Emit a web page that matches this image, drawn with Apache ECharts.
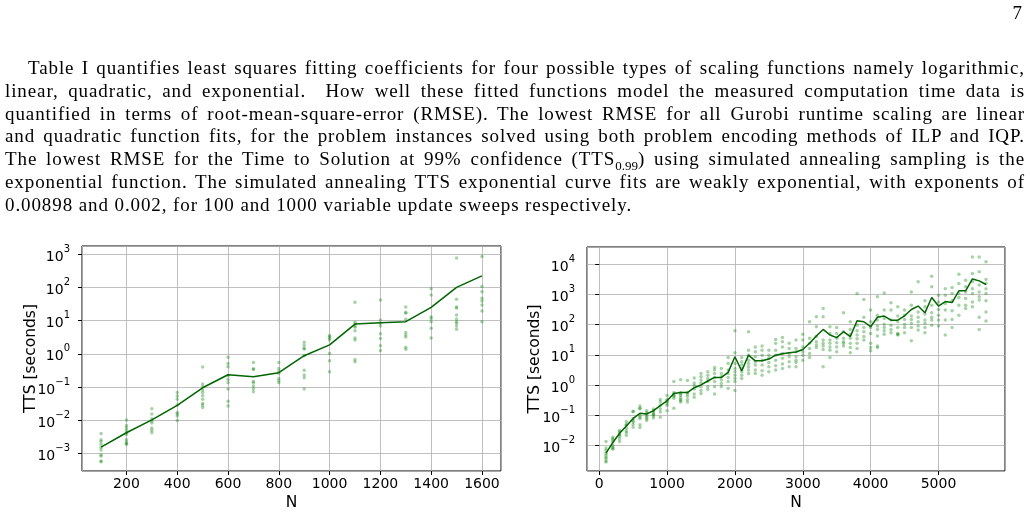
<!DOCTYPE html>
<html>
<head>
<meta charset="utf-8">
<script src="https://cdn.jsdelivr.net/npm/echarts@6/dist/echarts.min.js"></script>
<style>
html,body{margin:0;padding:0;background:#fff;}
#page{position:relative;width:1030px;height:514px;overflow:hidden;}
#chart{position:absolute;left:0;top:0;width:1030px;height:514px;}
#pnum{position:absolute;top:2px;right:8px;font:19px "Liberation Serif",serif;color:#000;z-index:2;}
#para{position:absolute;left:5px;top:57px;width:1020px;font:19px/22.8px "Liberation Serif",serif;letter-spacing:0.9px;color:#000;z-index:2;}
#para div{text-align:justify;text-align-last:justify;}
#para div.last{text-align-last:left;}
#para sub{font-size:13px;line-height:0;letter-spacing:0;}
</style>
</head>
<body>
<div id="page">
    <div id="chart"></div>
    <div id="pnum">7</div>
    <div id="para">
        <div style="text-indent:23px">Table I quantifies least squares fitting coefficients for four possible types of scaling functions namely logarithmic,</div>
        <div>linear, quadratic, and exponential.&nbsp; How well these fitted functions model the measured computation time data is</div>
        <div>quantified in terms of root-mean-square-error (RMSE). The lowest RMSE for all Gurobi runtime scaling are linear</div>
        <div>and quadratic function fits, for the problem instances solved using both problem encoding methods of ILP and IQP.</div>
        <div>The lowest RMSE for the Time to Solution at 99% confidence (TTS<sub>0.99</sub>) using simulated annealing sampling is the</div>
        <div>exponential function. The simulated annealing TTS exponential curve fits are weakly exponential, with exponents of</div>
        <div class="last">0.00898 and 0.002, for 100 and 1000 variable update sweeps respectively.</div>
    </div>
</div>
<script>
// 左图 - 每个N的平均TTS和各实例
var leftN = [100,200,300,400,500,600,700,800,900,1000,1100,1200,1300,1400,1500,1600];
var leftMean = [0.00155,0.0042,0.0102,0.028,0.095,0.234,0.204,0.27,0.88,1.86,7.9,8.7,9.3,25,101,224];
var leftRuns = [
    [0.0040,0.0026,0.0023,0.0019,0.0015,0.00126,0.00089,0.00083,0.00059,0.00056],
    [0.0102,0.0069,0.0059,0.0050,0.0043,0.0037,0.0026,0.0022,0.0020,0.0019],
    [0.022,0.0155,0.011,0.0093,0.0083,0.0058,0.0050,0.0042],
    [0.069,0.054,0.043,0.029,0.017,0.0155,0.0135,0.0098],
    [0.40,0.123,0.102,0.081,0.068,0.055,0.043,0.032,0.029,0.024],
    [0.79,0.51,0.41,0.22,0.17,0.135,0.087,0.037,0.027],
    [0.55,0.355,0.34,0.148,0.135,0.107,0.089,0.072],
    [0.55,0.36,0.30,0.26,0.18,0.155,0.135],
    [2.24,1.82,1.48,1.41,0.88,0.32,0.23,0.19,0.087],
    [3.6,3.3,2.95,2.6,1.03,0.62,0.29],
    [36,8.9,7.9,6.9,6.3,5.0,3.0,2.6,0.68,0.58],
    [42,10.5,8.3,6.9,4.0,2.9,1.74,1.26],
    [26,17.8,16.6,11,4.4,3.7,3.2,1.58,1.38],
    [91,59,13.2,11.7,9.3,5.9,3.0],
    [776,44,26,24,14.8,11.2,9.3,8.3,6.9,5.5],
    [851,107,74,47,39,29.5,19.5,9.3]
];

// 右图
var rightN = [100,200,300,400,500,600,700,800,900,1000,1100,1200,1300,1400,1500,1600,1700,1800,1900,2000,
    2100,2200,2300,2400,2500,2600,2700,2800,2900,3000,3100,3200,3300,3400,3500,3600,3700,3800,3900,4000,
    4100,4200,4300,4400,4500,4600,4700,4800,4900,5000,5100,5200,5300,5400,5500,5600,5700];
var rightMean = [0.0055,0.0123,0.025,0.044,0.078,0.115,0.11,0.14,0.205,0.30,0.52,0.56,0.56,0.81,1.0,1.35,1.78,1.78,2.6,8.6,
    2.9,9.7,6.3,6.3,7.2,9.7,10.8,11.7,12.3,15,24,42,69,45,37,58,40,134,124,85,
    175,192,140,140,196,316,410,245,790,410,580,535,1310,1310,3250,2800,2130];
var rightRuns = [
    [0.0135,0.0081,0.0068,0.0055,0.0047,0.004,0.0036,0.003,0.0028],
    [0.0186,0.0166,0.015,0.0129,0.01,0.0085,0.0081,0.0074],
    [0.031,0.028,0.024,0.022,0.020,0.0166,0.0135],
    [0.062,0.05,0.046,0.037,0.030,0.026,0.021],
    [0.135,0.13,0.076,0.065,0.059,0.049,0.040],
    [0.20,0.17,0.162,0.098,0.085,0.076,0.048,0.039],
    [0.14,0.12,0.11,0.095,0.085,0.076,0.066],
    [0.16,0.14,0.126,0.11,0.105,0.093,0.08],
    [0.33,0.27,0.21,0.16,0.126,0.085],
    [0.45,0.33,0.3,0.27,0.24,0.21,0.14],
    [1.3,0.56,0.5,0.45,0.42,0.36,0.17],
    [1.5,0.56,0.5,0.45,0.38,0.33,0.3,0.27],
    [1.4,0.56,0.5,0.42,0.33,0.27],
    [1.7,1.17,0.95,0.74,0.5,0.39],
    [2.4,1.86,1.45,1.17,0.87,0.65,0.52],
    [2.75,2.1,1.65,1.3,0.87,0.71],
    [3.8,3.1,2.4,1.78,1.3,0.87,0.5],
    [3.5,2.4,1.86,1.45,1.12,0.87],
    [8.1,5.1,3.1,2.4,1.78,1.3,0.78],
    [62,11.7,5.1,3.5,2.75,2.1,1.65,1.3,0.65],
    [8.1,5.9,4.6,3.5,2.75,2.1,1.65],
    [58,14,9.7,6.6,5.1,4.0,3.1,2.4],
    [18,12.6,8.6,5.9,4.6,3.1,2.4],
    [19.5,14,9.7,6.6,4.6,2.95,2.1],
    [14,9.7,7.6,5.5,4.0,2.75],
    [32,24,14,9.7,6.6,4.3,3.1],
    [37,27,18,11,7.6,4.9,3.5],
    [24,16,11,8.6,5.9,4.0],
    [31,16,12.6,8.6,6.6,5.5,4.0],
    [48,31,18,12.6,9.7,6.6],
    [123,35,24,16,11,8.1],
    [182,85,40,27,21,17.4],
    [339,182,31,24,19.5,15,4.0],
    [85,51,31,24,18,14,8.1],
    [80,51,35,25,18,12.6],
    [245,58,35,27,24,19.5],
    [123,69,48,35,24,17.4,11.7],
    [1070,95,62,45,34,24,16],
    [676,174,80,58,40,31],
    [302,123,80,51,24,17.4,13.5],
    [832,204,141,89,69,42,19.5,17.4],
    [1120,302,158,102,80,62,48],
    [525,302,141,95,69,54],
    [389,191,123,80,51,48,45],
    [302,204,148,102,80,54],
    [1200,437,191,148,110,80,29],
    [2630,263,174,123,89,66],
    [617,389,224,141,110,80,54],
    [3980,1780,437,245,174,141,95],
    [933,562,316,204,141,89],
    [1550,933,501,302,141,45],
    [1700,1070,617,288,148,80],
    [4680,2290,1070,794,437,204],
    [2950,1780,1200,724,437,339],
    [17400,4900,2630,1550,1070,562,389],
    [17400,5600,2040,1200,832,646,174,69],
    [12000,3090,2290,1550,1070,617,263,132]
];

var fontFamily = 'DejaVu Sans';
var gridColor = '#b0b0b0';

// 散点 [N, tts]
function runPoints(ns, runs) {
    var pts = [];
    for (var i = 0; i < ns.length; i++) {
        for (var j = 0; j < runs[i].length; j++) {
            pts.push([ns[i], runs[i][j]]);
        }
    }
    return pts;
}
function meanPoints(ns, mean) {
    var pts = [];
    for (var i = 0; i < ns.length; i++) pts.push([ns[i], mean[i]]);
    return pts;
}

// 10^n 标签
function powLabel(v) {
    var e = Math.round(Math.log(v) / Math.LN10);
    var s = e < 0 ? '\u2212' + (-e) : '' + e;
    return '{b|10}{s|' + s + '}';
}

function xAxisOpt(idx, min, max, step) {
    return {
        type: 'value', gridIndex: idx, min: min, max: max,
        minInterval: step, maxInterval: step,
        name: 'N', nameLocation: 'middle', nameGap: 24, nameMoveOverlap: false,
        nameTextStyle: {fontFamily: fontFamily, fontSize: 15.5, color: '#000'},
        axisLine: {show: false},
        axisTick: {show: true, length: 4, lineStyle: {color: '#000'}},
        axisLabel: {fontFamily: fontFamily, fontSize: 14, color: '#000', margin: 6,
            showMinLabel: false, showMaxLabel: false,
            formatter: function (v) { return '' + v; }},
        splitLine: {show: true, lineStyle: {color: gridColor, width: 0.8}}
    };
}
function yAxisOpt(idx, min, max, gap) {
    return {
        type: 'log', gridIndex: idx, min: min, max: max, logBase: 10,
        name: 'TTS [seconds]', nameLocation: 'middle', nameGap: gap, nameMoveOverlap: false,
        nameTextStyle: {fontFamily: fontFamily, fontSize: 15.5, color: '#000'},
        axisLine: {show: false},
        axisTick: {show: true, length: 4, lineStyle: {color: '#000'}},
        axisLabel: {
            margin: 12, showMinLabel: false, showMaxLabel: false,
            formatter: powLabel,
            rich: {
                b: {fontFamily: fontFamily, fontSize: 14, color: '#000', lineHeight: 20, verticalAlign: 'bottom'},
                s: {fontFamily: fontFamily, fontSize: 10, color: '#000', lineHeight: 10, verticalAlign: 'top'}
            }
        },
        splitLine: {show: true, lineStyle: {color: gridColor, width: 0.8}}
    };
}

var chart = echarts.init(document.getElementById('chart'));
var option = {
    animation: false,
    backgroundColor: '#fff',
    grid: [
        {left: 82, top: 246, width: 419, height: 225, show: true, borderColor: '#000', borderWidth: 1},
        {left: 587, top: 247, width: 418, height: 224, show: true, borderColor: '#000', borderWidth: 1}
    ],
    xAxis: [xAxisOpt(0, 25, 1675, 200), xAxisOpt(1, -180, 5980, 1000)],
    yAxis: [yAxisOpt(0, 2.95e-4, 1778, 43), yAxisOpt(1, 1.41e-3, 37150, 44)],
    series: [
        {type: 'scatter', xAxisIndex: 0, yAxisIndex: 0, data: runPoints(leftN, leftRuns),
            symbolSize: 3.5, itemStyle: {color: '#008000', opacity: 0.35}},
        {type: 'line', xAxisIndex: 0, yAxisIndex: 0, data: meanPoints(leftN, leftMean),
            showSymbol: false, lineStyle: {color: '#006400', width: 1.5}},
        {type: 'scatter', xAxisIndex: 1, yAxisIndex: 1, data: runPoints(rightN, rightRuns),
            symbolSize: 3.5, itemStyle: {color: '#008000', opacity: 0.35}},
        {type: 'line', xAxisIndex: 1, yAxisIndex: 1, data: meanPoints(rightN, rightMean),
            showSymbol: false, lineStyle: {color: '#006400', width: 1.5}}
    ]
};
chart.setOption(option);
</script>
</body>
</html>
